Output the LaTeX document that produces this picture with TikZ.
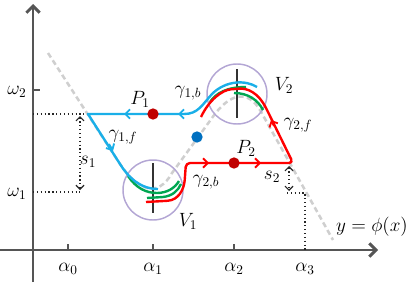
\documentclass[tikz,border=0pt]{standalone}
\usepackage{tikz}
\usetikzlibrary{arrows.meta}
\definecolor{axisgray}{HTML}{555555}
\definecolor{pathblue}{HTML}{1AAFE8}
\definecolor{pathred}{HTML}{FF0000}
\definecolor{pathgreen}{HTML}{00A651}
\definecolor{dotred}{HTML}{C00000}
\definecolor{dotblue}{HTML}{0070C0}
\definecolor{ringlilac}{HTML}{B3A6D4}
\definecolor{phigray}{HTML}{CFCFCF}

\begin{document}
\begin{tikzpicture}[x=0.75pt, y=-0.75pt,
    axis/.style     = {draw=axisgray, line width=2.2pt, -{Straight Barb[length=5pt,width=10pt]}},
    tick/.style     = {draw=axisgray, line width=1.2pt},
    guide/.style    = {draw=black!85, dotted, line width=0.9pt},
    span/.style     = {guide, {Straight Barb[length=3pt,width=6pt]}-{Straight Barb[length=3pt,width=6pt]}},
    phicurve/.style = {draw=phigray, dashed, dash pattern=on 4pt off 2.5pt, line width=1.9pt},
    gamone/.style   = {draw=pathblue, line width=1.8pt, line join=round},
    gamtwo/.style   = {draw=pathred, line width=1.8pt, line join=round, rounded corners=3pt},
    gamaux/.style   = {draw=pathgreen, line width=1.8pt},
    tipone/.style   = {draw=pathblue, line width=1.4pt, -{Straight Barb[length=3.5pt,width=7pt]}},
    tiptwo/.style   = {draw=pathred, line width=1.4pt, -{Straight Barb[length=3.5pt,width=7pt]}},
    ring/.style     = {circle, draw=ringlilac, line width=1.1pt, minimum size=45pt, inner sep=0pt},
    stem/.style     = {draw=black!80, line width=1.3pt},
    ptred/.style    = {circle, fill=dotred, minimum size=8.5pt, inner sep=0pt},
    ptblue/.style   = {circle, fill=dotblue, minimum size=8.5pt, inner sep=0pt},
    lbl/.style      = {inner sep=0pt, font=\fontsize{14}{16}\selectfont}
  ]
  \useasboundingbox (0,0) rectangle (409,282);

  % ── phi(x) curve ──────────────────────────────────────────────────────────
  \draw[phicurve] (48,53) -- (118,161) .. controls (138,192) and (158,198) .. (172,173)
    -- (212,118) .. controls (230,92) and (248,90) .. (260,110) -- (333,240);

  % ── Axes ──────────────────────────────────────────────────────────────────
  \draw[axis] (33,282) -- (33,4);
  \draw[axis] (0,250) -- (378,250);
  \draw[tick] (33,90) -- (40,90);
  \foreach \x in {68,153,234}
    \draw[tick] (\x,250) -- (\x,244);

  % ── Dotted guides ─────────────────────────────────────────────────────────
  \draw[guide] (33,114) -- (88,114);
  \draw[guide] (33,192) -- (80,192);
  \draw[span]  (80,116) -- (80,190);
  \draw[guide] (287,193) -- (305,193) -- (305,250);
  \draw[span]  (289,166) -- (289,191);

  % ── Neighbourhoods ────────────────────────────────────────────────────────
  \node[ring] (ringone) at (153,190) {};
  \node[ring] (ringtwo) at (237,94) {};
  \draw[stem] (ringone.center) ++(0,-27) -- ++(0,50);
  \draw[stem] (ringtwo.center) ++(0,-25) -- ++(0,49);

  % ── Green branches ────────────────────────────────────────────────────────
  \draw[gamaux] (128,176) .. controls (136,188) and (146,193) .. (157,193)
    .. controls (167,193) and (175,188) .. (179,181);
  \draw[gamaux] (147,198) -- (163,197) .. controls (172,196) and (178,191) .. (181,184);
  \draw[gamaux] (210,102) .. controls (216,93) and (227,87) .. (246,87);
  \draw[gamaux] (234,93) .. controls (248,93) and (258,100) .. (263,110);

  % ── gamma_1 (blue) ────────────────────────────────────────────────────────
  \draw[gamone] (257,87) .. controls (246,80) and (226,80) .. (212,94)
    .. controls (202,105) and (198,114) .. (184,114) -- (88,114) -- (120,164)
    .. controls (128,177) and (140,189) .. (158,189);
  \draw[tipone] (131,114) -- (124,114);
  \draw[tipone] (185,114) -- (178,114);
  \draw[tipone] (109,144) -- (113,151);

  % ── gamma_2 (red) ─────────────────────────────────────────────────────────
  \draw[gamtwo] (146,202) -- (164,201) .. controls (178,200) and (184,190) .. (185,176)
    -- (186,163) -- (293,163) -- (268,112) .. controls (258,92) and (247,88) .. (235,89)
    .. controls (222,90) and (209,100) .. (201,117);
  \draw[tiptwo] (202,163) -- (209,163);
  \draw[tiptwo] (254,163) -- (261,163);
  \draw[tiptwo] (274,126) -- (271,120);

  % ── Points ────────────────────────────────────────────────────────────────
  \node[ptred]  (pone)   at (153,114) {};
  \node[ptred]  (ptwo)   at (234,163) {};
  \node[ptblue] (pmid)   at (197,137) {};

  % ── Labels ────────────────────────────────────────────────────────────────
  \node[lbl] (omtwo)   at (17,92)   {$\omega_2$};
  \node[lbl] (omone)   at (17,194)  {$\omega_1$};
  \node[lbl] (alzero)  at (68,269)  {$\alpha_0$};
  \node[lbl] (alone)   at (153,269) {$\alpha_1$};
  \node[lbl] (altwo)   at (234,269) {$\alpha_2$};
  \node[lbl] (althree) at (305,269) {$\alpha_3$};
  \node[lbl] (ponelbl) at (140,99)  {$P_1$};
  \node[lbl] (ptwolbl) at (246,148) {$P_2$};
  \node[lbl] (gonebl)  at (188,93)  {$\gamma_{1,b}$};
  \node[lbl] (gonefl)  at (123,137) {$\gamma_{1,f}$};
  \node[lbl] (gtwobl)  at (206,182) {$\gamma_{2,b}$};
  \node[lbl] (gtwofl)  at (298,125) {$\gamma_{2,f}$};
  \node[lbl] (vonel)   at (188,221) {$V_1$};
  \node[lbl] (vtwol)   at (284,85)  {$V_2$};
  \node[lbl] (sonel)   at (88,162)  {$s_1$};
  \node[lbl] (stwol)   at (272,177) {$s_2$};
  \node[lbl] (phil)    at (372,227) {$y=\phi(x)$};

\end{tikzpicture}
\end{document}
